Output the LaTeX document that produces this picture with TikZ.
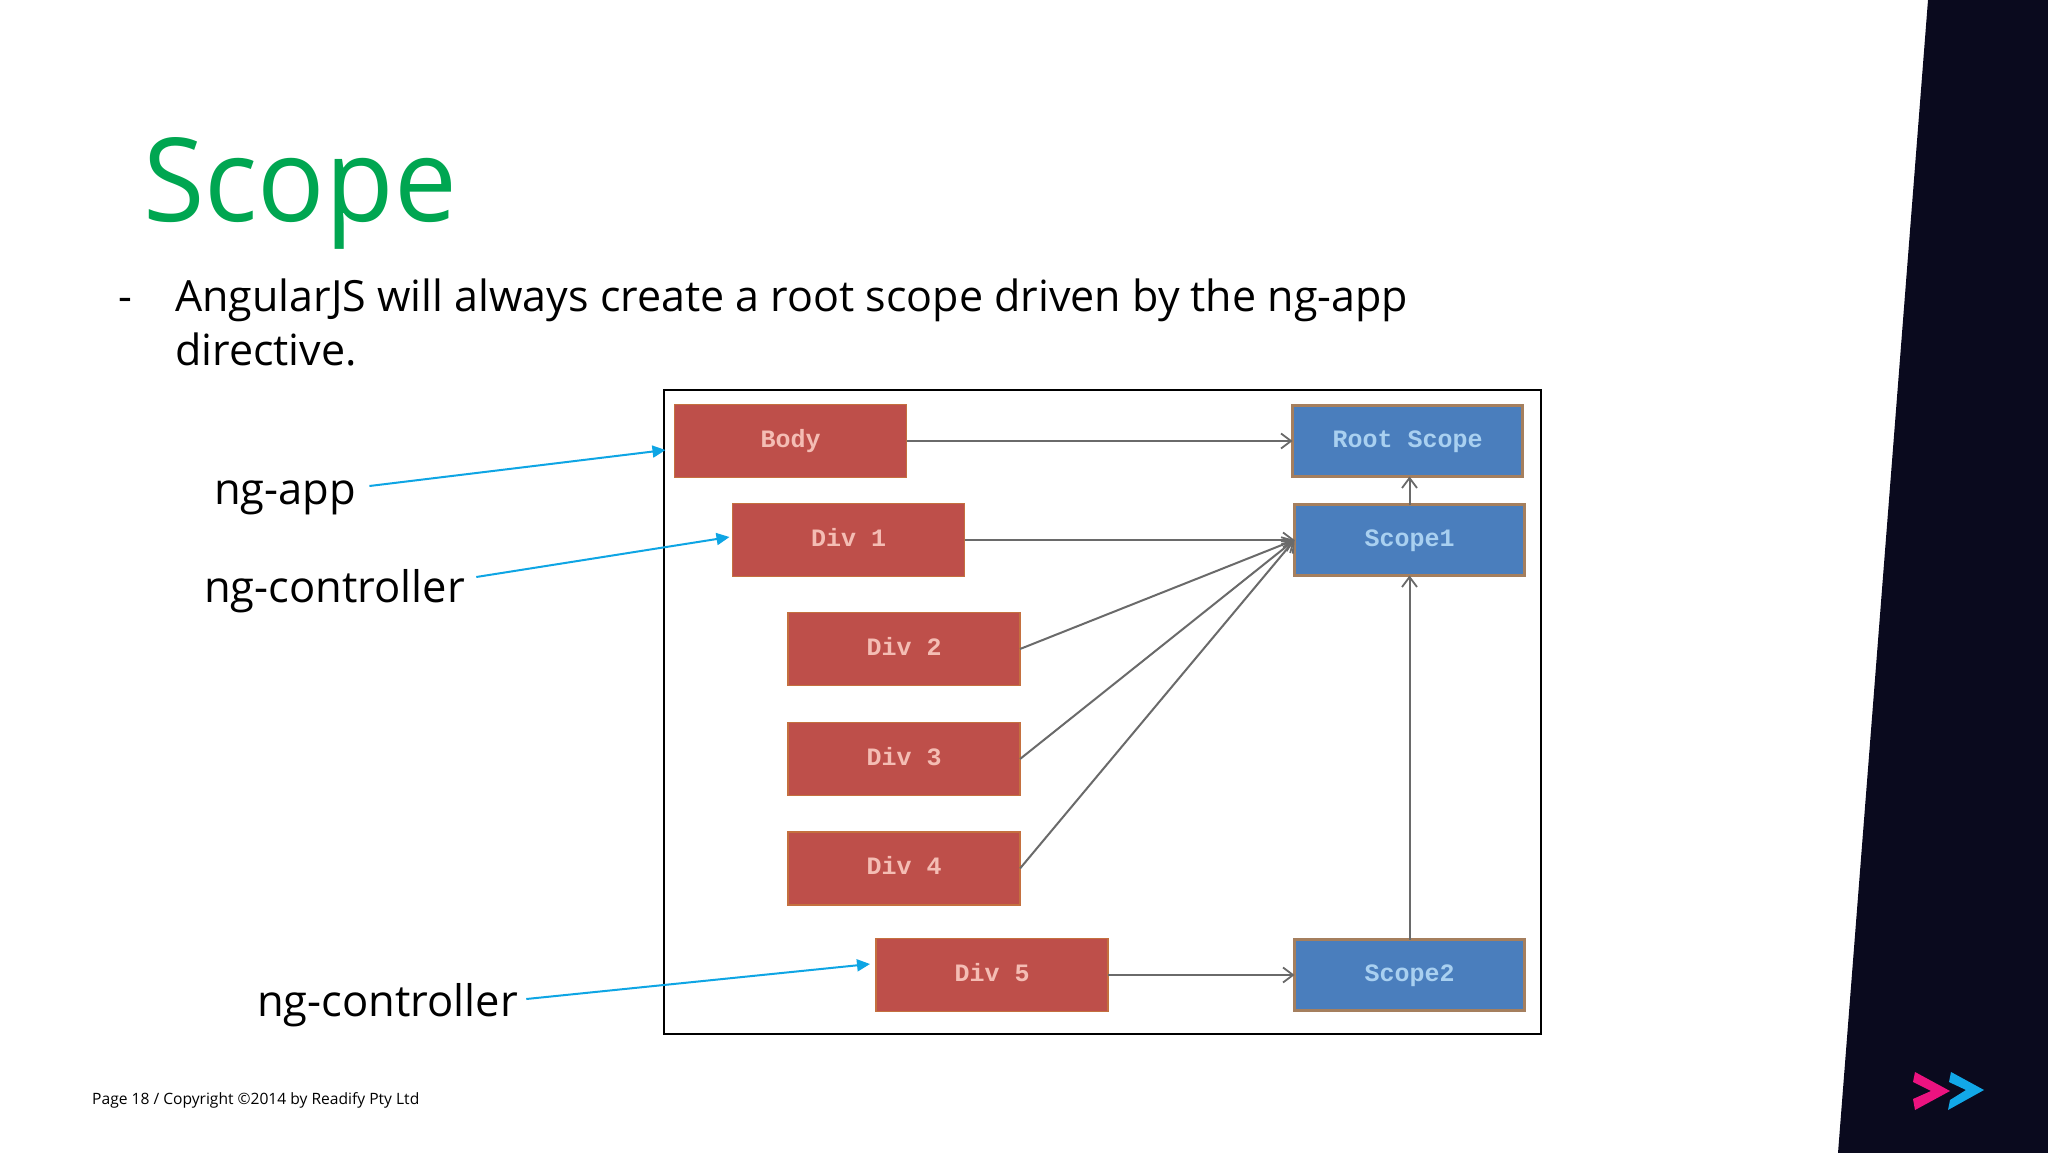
\documentclass[tikz,border=0pt]{standalone}
\usepackage{fontspec}
\usetikzlibrary{arrows.meta,calc}
\setmainfont{Open Sans}
\newfontfamily\boxfont{Liberation Mono}
\definecolor{navy}{HTML}{0A0A1E}
\definecolor{titlegreen}{HTML}{00A651}
\definecolor{boxred}{HTML}{BE4F4A}
\definecolor{edgered}{HTML}{C4703F}
\definecolor{boxblue}{HTML}{4A7EBD}
\definecolor{edgeblue}{HTML}{A57F5E}
\definecolor{txtred}{HTML}{F4BDB4}
\definecolor{txtblue}{HTML}{A9D0F0}
\definecolor{wire}{HTML}{6A6A6A}
\definecolor{callout}{HTML}{0EA5E4}
\definecolor{logopink}{HTML}{EC1380}
\definecolor{logoblue}{HTML}{12A8E8}
\tikzset{
  x=1pt,y=-1pt,
  redbox/.style={draw=edgered,line width=1.6pt,fill=boxred,text=txtred,minimum width=232pt,minimum height=73pt,inner sep=0pt,outer sep=0pt,execute at begin node=\vphantom{Body},font=\boxfont\fontsize{25}{25}\selectfont\bfseries},
  bluebox/.style={draw=edgeblue,line width=3pt,fill=boxblue,text=txtblue,minimum width=230pt,minimum height=71pt,inner sep=0pt,outer sep=0pt,execute at begin node=\vphantom{Body},font=\boxfont\fontsize{25}{25}\selectfont\bfseries},
  wirearrow/.style={draw=wire,line width=2pt,-{Straight Barb[length=10pt,width=15pt,line width=1.8pt]}},
  calloutarrow/.style={draw=callout,line width=2pt,-{Triangle[length=13pt,width=12pt]}},
  bodytext/.style={anchor=base west,inner sep=0pt,font=\fontsize{43}{43}\selectfont,text=black},
  labeltext/.style={anchor=base west,inner sep=0pt,font=\fontsize{43.5}{43.5}\selectfont,text=black},
}
\begin{document}
\begin{tikzpicture}
\useasboundingbox (0,0) rectangle (2048,1153);
\fill[white] (0,0) rectangle (2048,1153);
\fill[navy] (1928,0) -- (2048,0) -- (2048,1153) -- (1838,1153) -- cycle;
% logo
\fill[logopink] (1915,1072) -- (1950,1091) -- (1915,1110) -- (1913,1099) -- (1931,1091) -- (1913,1082) -- cycle;
\fill[logoblue] (1951,1072) -- (1984,1090) -- (1948,1110) -- (1950,1100) -- (1966,1090) -- (1949,1082) -- cycle;
% title and text
\node[anchor=base west,inner sep=0pt,text=titlegreen,font=\fontsize{116}{116}\selectfont] (title) at (143,221) {\scalebox{.965}[1]{Scope}};
\node[bodytext] (dash) at (118,311) {-};
\node[bodytext] (line1) at (175,311) {AngularJS will always create a root scope driven by the ng-app};
\node[bodytext] (line2) at (175,365) {directive.};
% frame
\node[draw=black,line width=1.6pt,fill=white,minimum width=877pt,minimum height=644pt,inner sep=0pt] (frame) at (1102.5,712) {};
% boxes
\node[redbox] (body) at (790.5,441) {Body};
\node[redbox] (div1) at (848.5,540) {Div 1};
\node[redbox] (div2) at (904,649) {Div 2};
\node[redbox] (div3) at (904,759) {Div 3};
\node[redbox] (div4) at (904,868.5) {Div 4};
\node[redbox] (div5) at (992,975) {Div 5};
\node[bluebox] (root) at (1407.5,441) {Root Scope};
\node[bluebox] (scope1) at (1409.5,540) {Scope1};
\node[bluebox] (scope2) at (1409.5,975) {Scope2};
% connectors
\draw[wirearrow] (body.east) -- (root.west);
\draw[wirearrow] (div1.east) -- (scope1.west);
\draw[wirearrow] (div2.east) -- (scope1.west);
\draw[wirearrow] (div3.east) -- (scope1.west);
\draw[wirearrow] (div4.east) -- (scope1.west);
\draw[wirearrow] (div5.east) -- (scope2.west);
\draw[wirearrow] (scope1.north) -- (scope1.north |- root.south);
\draw[wirearrow] (scope2.north) -- (scope2.north |- scope1.south);
% labels
\node[labeltext] (ngapp) at (214,504) {ng-app};
\node[labeltext] (ngctrl) at (204,602) {ng-controller};
\node[labeltext] (ngctrlb) at (257,1016) {ng-controller};
\coordinate (tipa) at ($(body.west)+(-9,9)$);
\coordinate (tipb) at ($(div1.west)+(-3,-3)$);
\coordinate (tipc) at ($(div5.west)+(-6,-11)$);
\draw[calloutarrow] (ngapp.east |- 0,486) ++(13,0) -- (tipa);
\draw[calloutarrow] (ngctrl.east |- 0,577) ++(11,0) -- (tipb);
\draw[calloutarrow] (ngctrlb.east |- 0,999) ++(8,0) -- (tipc);
% footer
\node[anchor=base west,inner sep=0pt,text=black,font=\fontsize{15.6}{15.6}\selectfont] (footer) at (92,1104) {Page 18 / Copyright ©2014 by Readify Pty Ltd};
\end{tikzpicture}
\end{document}
